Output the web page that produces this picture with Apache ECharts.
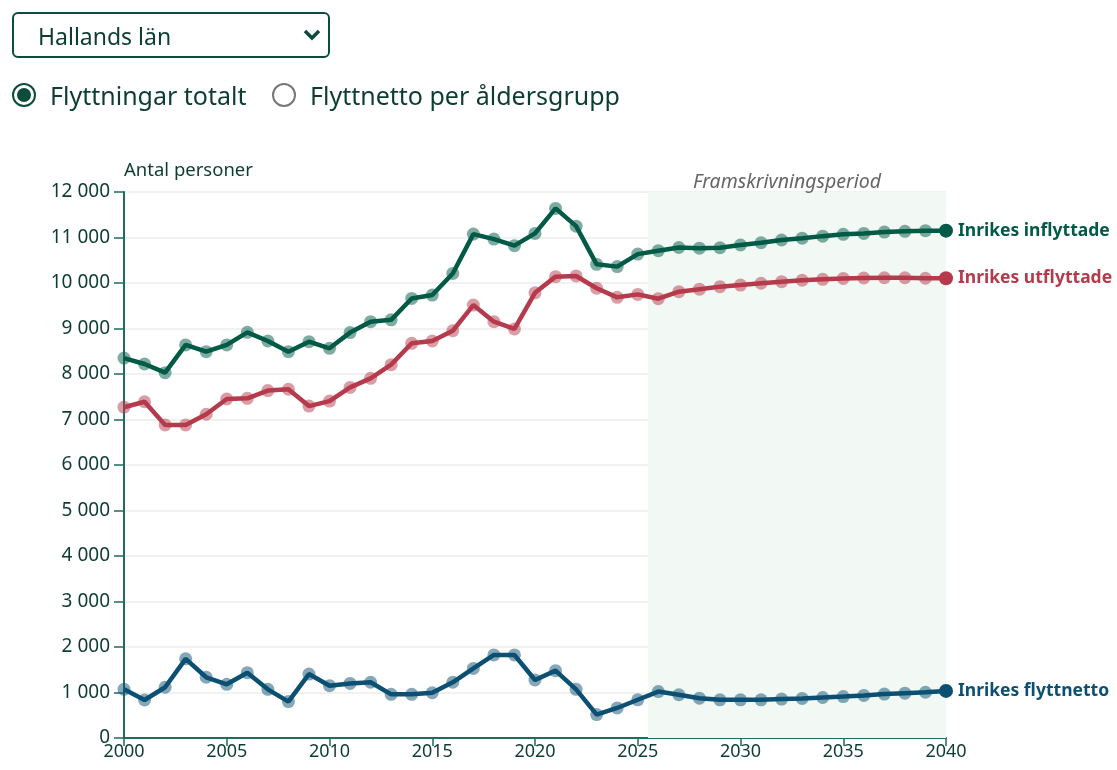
<!DOCTYPE html>
<html>
<head>
<meta charset="utf-8">
<script src="https://cdn.jsdelivr.net/npm/echarts@6/dist/echarts.min.js"></script>
<style>
  html, body { margin: 0; padding: 0; background: #fff; }
  body { width: 1117px; height: 770px; position: relative; overflow: hidden; font-family: "Noto Sans", "Open Sans", sans-serif; color: #0d3d30; }
  #chart { position: absolute; left: 0; top: 0; width: 1117px; height: 770px; }
  .select { position: absolute; left: 12px; top: 12px; width: 314px; height: 42px; border: 2px solid #0c4c3b; border-radius: 6px; box-sizing: content-box; }
  .select span { position: absolute; left: 24px; top: 6px; font-size: 23px; }
  .select svg { position: absolute; right: 6px; top: 14px; }
  .radio { position: absolute; top: 78px; font-size: 25px; display: flex; align-items: center; }
  .radio .dot { width: 24px; height: 24px; border-radius: 50%; border: 2px solid #0c4c3b; box-sizing: border-box; position: relative; margin-right: 14px; }
  .radio .dot.on::after { content: ""; position: absolute; left: 3px; top: 3px; width: 14px; height: 14px; border-radius: 50%; background: #0c4c3b; }
  .radio .dot.off { border-color: #777; }
</style>
</head>
<body>
<div id="chart"></div>
<div class="select"><span>Hallands län</span>
  <svg width="20" height="14" viewBox="0 0 20 14"><path d="M3 3 L10 10 L17 3" fill="none" stroke="#0c4c3b" stroke-width="3.5"/></svg>
</div>
<div class="radio" style="left:12px"><div class="dot on"></div>Flyttningar totalt</div>
<div class="radio" style="left:272px"><div class="dot off"></div>Flyttnetto per åldersgrupp</div>
<script>
// data
const years = [2000, 2001, 2002, 2003, 2004, 2005, 2006, 2007, 2008, 2009,
  2010, 2011, 2012, 2013, 2014, 2015, 2016, 2017, 2018, 2019,
  2020, 2021, 2022, 2023, 2024, 2025, 2026, 2027, 2028, 2029,
  2030, 2031, 2032, 2033, 2034, 2035, 2036, 2037, 2038, 2039, 2040];

const inflyttade = [8350, 8220, 8030, 8640, 8490, 8640, 8915, 8725, 8490, 8710,
  8565, 8910, 9150, 9190, 9660, 9735, 10210, 11075, 10965, 10820,
  11090, 11640, 11250, 10410, 10360, 10635, 10710, 10780, 10765, 10775,
  10835, 10885, 10945, 10985, 11030, 11070, 11090, 11120, 11135, 11150, 11150];

const utflyttade = [7270, 7390, 6880, 6880, 7115, 7450, 7465, 7635, 7665, 7295,
  7405, 7705, 7905, 8205, 8675, 8725, 8950, 9515, 9150, 8990,
  9785, 10140, 10155, 9885, 9685, 9750, 9655, 9810, 9865, 9920,
  9955, 9995, 10030, 10060, 10080, 10100, 10110, 10115, 10115, 10105, 10105];

const flyttnetto = [1070, 835, 1115, 1740, 1335, 1180, 1435, 1070, 800, 1405,
  1150, 1200, 1225, 960, 960, 995, 1225, 1530, 1825, 1825,
  1275, 1480, 1070, 515, 660, 840, 1020, 950, 875, 840,
  840, 840, 855, 870, 890, 910, 935, 965, 985, 1005, 1035];

const yTicks = [0, 1000, 2000, 3000, 4000, 5000, 6000, 7000, 8000, 9000, 10000, 11000, 12000];
const projectionStart = 2025.5;

const textColor = '#0d3d30';
const axisColor = '#1f6b5e';

function fmt(v) {
  return String(v).replace(/\B(?=(\d{3})+(?!\d))/g, ' ');
}

function pairs(vals) {
  return vals.map((v, i) => [years[i], v]);
}

function makeSeries(name, vals, color, withArea) {
  const last = vals.length - 1;
  const line = {
    name: name,
    type: 'line',
    z: 3,
    data: pairs(vals),
    symbol: 'circle',
    showAllSymbol: true,
    symbolSize: (v, p) => (p.dataIndex === last ? 14 : 0),
    lineStyle: { color: color, width: 4.5 },
    itemStyle: { color: color },
    emphasis: { disabled: true },
    endLabel: {
      show: true,
      formatter: name,
      color: color,
      fontSize: 17.5,
      fontWeight: 'bold',
      fontFamily: 'Noto Sans',
      distance: 12
    }
  };
  if (withArea) {
    line.markArea = {
      silent: true,
      itemStyle: { color: '#f2f8f3' },
      label: {
        show: true,
        position: 'top',
        distance: 0,
        offset: [-10, 0],
        formatter: 'Framskrivningsperiod',
        color: '#666',
        fontStyle: 'italic',
        fontSize: 19.5,
        fontFamily: 'Noto Sans'
      },
      data: [[{ xAxis: projectionStart }, { xAxis: 2040 }]]
    };
  }
  const dots = {
    name: name + ' dots',
    type: 'scatter',
    z: 2,
    data: pairs(vals).slice(0, last),
    symbolSize: 13,
    itemStyle: { color: color, opacity: 0.5 },
    emphasis: { disabled: true }
  };
  return [dots, line];
}

const chart = echarts.init(document.getElementById('chart'));
chart.setOption({
  animation: false,
  grid: { left: 124, right: 171, top: 192, bottom: 32 },
  xAxis: {
    type: 'value',
    min: 2000,
    max: 2040,
    interval: 5,
    axisLine: { show: true, lineStyle: { color: axisColor, width: 2 } },
    axisTick: { show: true, length: 8, lineStyle: { color: axisColor, width: 1.5 } },
    axisLabel: { color: textColor, fontSize: 18, fontFamily: 'Noto Sans', margin: 5, formatter: v => String(v) },
    splitLine: { show: false }
  },
  yAxis: {
    type: 'value',
    min: 0,
    max: 12000,
    interval: 1000,
    name: 'Antal personer',
    nameLocation: 'end',
    nameGap: 12,
    nameTextStyle: { color: textColor, fontSize: 18.5, fontFamily: 'Noto Sans', align: 'left' },
    axisLine: { show: true, lineStyle: { color: axisColor, width: 2 } },
    axisTick: { show: true, length: 10, lineStyle: { color: axisColor, width: 1.5 } },
    axisLabel: {
      color: textColor, fontSize: 19, fontFamily: 'Noto Sans', margin: 14,
      formatter: v => (yTicks.includes(v) ? fmt(v) : '')
    },
    splitLine: { show: true, lineStyle: { color: '#ededed', width: 1.5 } }
  },
  series: [
    ...makeSeries('Inrikes inflyttade', inflyttade, '#005a46', true),
    ...makeSeries('Inrikes utflyttade', utflyttade, '#b53a4b', false),
    ...makeSeries('Inrikes flyttnetto', flyttnetto, '#0b5072', false)
  ]
});
</script>
</body>
</html>
